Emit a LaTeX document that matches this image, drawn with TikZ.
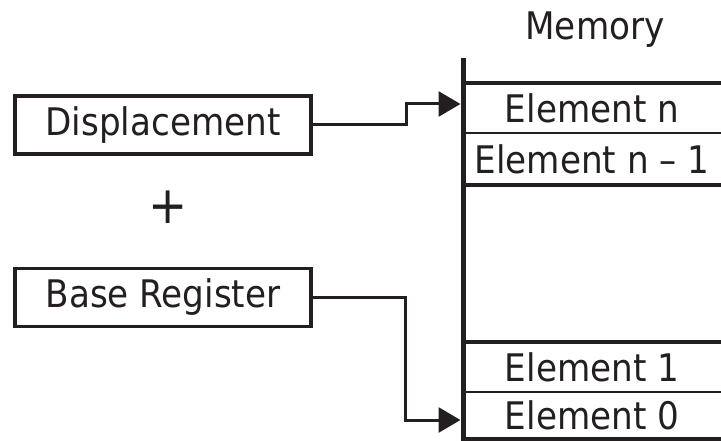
\documentclass[tikz,border=0pt]{standalone}
\usepackage{fontspec}
\setmainfont{DejaVu Sans Condensed}
\usetikzlibrary{arrows.meta}
\definecolor{ink}{HTML}{231F20}
\begin{document}
\begin{tikzpicture}[x=1pt,y=-1pt,
  lbl/.style={font=\fontsize{38}{40}\selectfont, text=ink},
  regbox/.style={draw=ink, line width=3.5pt, minimum width=296pt, minimum height=58pt, inner sep=0pt, lbl},
  cell/.style={minimum width=258pt, inner sep=0pt, lbl},
  conn/.style={draw=ink, line width=3pt},
  arr/.style={conn, -{Triangle[length=22pt,width=25pt]}},
  thickrule/.style={draw=ink, line width=4pt},
  thinrule/.style={draw=ink, line width=2.5pt},
  ]
\useasboundingbox (0,0) rectangle (721,441);
% registers
\node[regbox] (disp) at (163,125) {Displacement};
\node[lbl, font=\fontsize{52}{54}\selectfont] (plus) at (168,207) {+};
\node[regbox] (base) at (163,297.5) {Base Register};
% memory
\node[lbl] (memlbl) at (595,30) {Memory};
\draw[draw=ink, line width=5pt] (463,58) -- (463,441);
\draw[thickrule] (463,83) -- (721,83);
\draw[thinrule] (463,133) -- (721,133);
\draw[thickrule] (463,185) -- (721,185);
\draw[thickrule] (463,342) -- (721,342);
\draw[thinrule] (463,392) -- (721,392);
\draw[thickrule] (463,439) -- (721,439);
\node[cell] (en) at (592,108) {Element n};
\node[cell] (enm) at (592,159) {Element n -- 1};
\node[cell] (e1) at (592,367) {Element 1};
\node[cell] (e0) at (592,415.5) {Element 0};
% connectors
\coordinate (tn) at (460.5,104);
\coordinate (t0) at (460.5,420);
\draw[arr] (disp.east) -- (406,125) -- (406,104) -- (tn);
\draw[arr] (base.east) -- (405,297.5) -- (405,420) -- (t0);
\end{tikzpicture}
\end{document}
